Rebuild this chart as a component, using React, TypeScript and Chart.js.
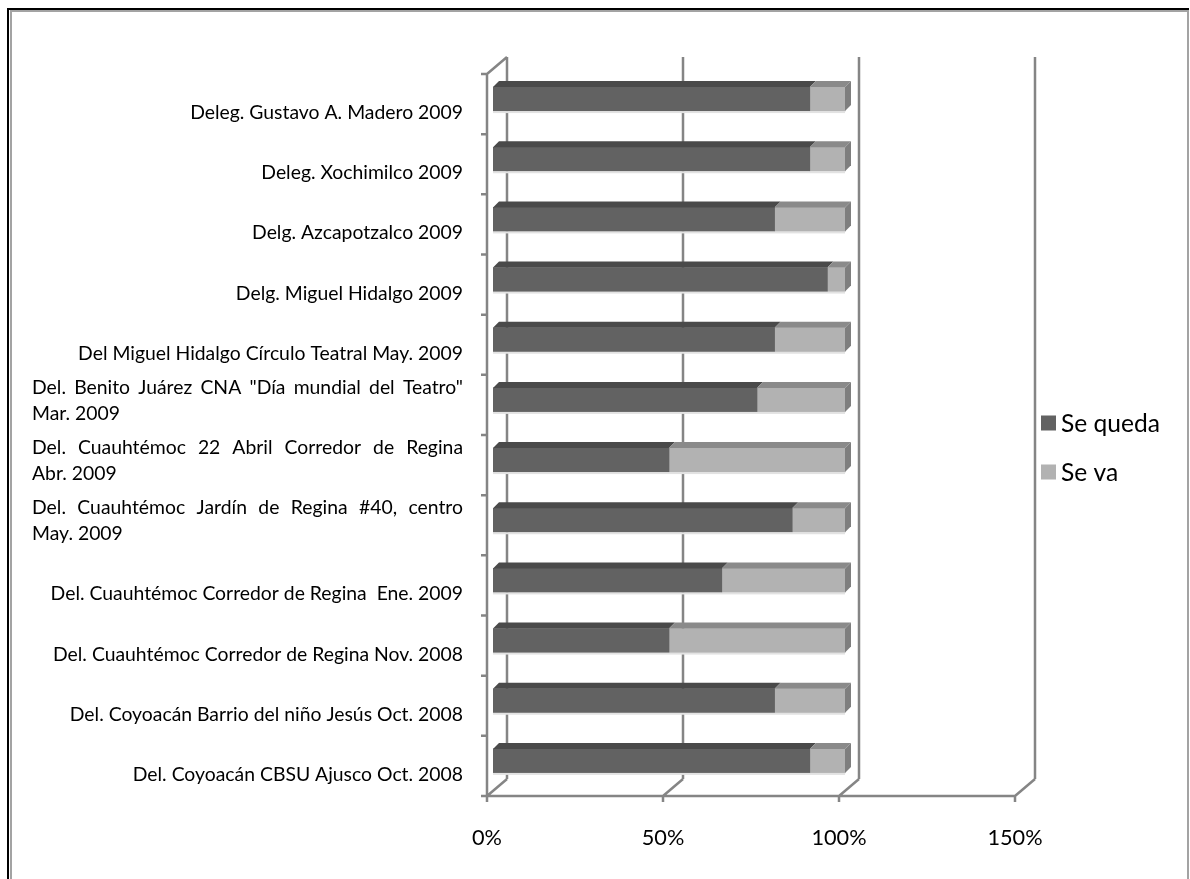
import React, { useEffect, useRef } from "react";
import { Chart, registerables } from "chart.js";

Chart.register(...registerables);

const categories: string[][] = [
  ["Deleg. Gustavo A. Madero 2009"],
  ["Deleg. Xochimilco 2009"],
  ["Delg. Azcapotzalco 2009"],
  ["Delg. Miguel Hidalgo 2009"],
  ["Del Miguel Hidalgo Círculo Teatral May. 2009"],
  ['Del. Benito Juárez CNA "Día mundial del Teatro"', "Mar. 2009"],
  ["Del. Cuauhtémoc 22 Abril Corredor de Regina", "Abr. 2009"],
  ["Del. Cuauhtémoc Jardín de Regina #40, centro", "May. 2009"],
  ["Del. Cuauhtémoc Corredor de Regina  Ene. 2009"],
  ["Del. Cuauhtémoc Corredor de Regina Nov. 2008"],
  ["Del. Coyoacán Barrio del niño Jesús Oct. 2008"],
  ["Del. Coyoacán CBSU Ajusco Oct. 2008"],
];

const seQueda: number[] = [90, 90, 80, 95, 80, 75, 50, 85, 65, 50, 80, 90];
const seVa: number[] = [10, 10, 20, 5, 20, 25, 50, 15, 35, 50, 20, 10];

const xTicks: number[] = [0, 50, 100, 150];
const xTickLabels: string[] = ["0%", "50%", "100%", "150%"];
const seriesNames: string[] = ["Se queda", "Se va"];

const FONT = "Lato, 'Open Sans', sans-serif";
const DARK = "#626262";
const LIGHT = "#b2b2b2";
const DARK_TOP = "#4a4a4a";
const LIGHT_TOP = "#8a8a8a";
const DARK_SIDE = "#474747";
const LIGHT_SIDE = "#7e7e7e";
const WALL = "#858585";

const FRONT_DX = -6;
const FRONT_DY = 5;
const BACK_DX = 14;
const BACK_DY = -12;
const DEPTH = 6;

function fitSize(ctx: CanvasRenderingContext2D, text: string, target: number) {
  ctx.font = `20px ${FONT}`;
  const w = ctx.measureText(text).width;
  return (20 * target) / w;
}

const framePlugin = {
  id: "frame",
  beforeDraw(chart: any) {
    const ctx = chart.ctx;
    ctx.save();
    ctx.fillStyle = "#ffffff";
    ctx.fillRect(0, 0, chart.width, chart.height);
    ctx.fillStyle = "#000000";
    ctx.fillRect(7, 8, 1182, 2);
    ctx.fillRect(7, 8, 2, 871);
    ctx.fillStyle = "#a3a3a3";
    ctx.fillRect(10, 10, 1177, 2);
    ctx.fillRect(10, 10, 2, 869);
    ctx.fillRect(1187, 10, 2, 869);
    ctx.restore();
  },
};

const wallsPlugin = {
  id: "walls",
  beforeDatasetsDraw(chart: any) {
    const ctx = chart.ctx;
    const ca = chart.chartArea;
    const xs = chart.scales.x;
    const ys = chart.scales.y;
    ctx.save();
    ctx.strokeStyle = WALL;
    ctx.lineWidth = 2.5;
    ctx.beginPath();
    xTicks.forEach((v) => {
      const px = xs.getPixelForValue(v);
      ctx.moveTo(px + BACK_DX, ca.top + BACK_DY);
      ctx.lineTo(px + BACK_DX, ca.bottom + BACK_DY);
      ctx.moveTo(px + FRONT_DX, ca.bottom + FRONT_DY);
      ctx.lineTo(px + BACK_DX, ca.bottom + BACK_DY);
      ctx.moveTo(px + FRONT_DX, ca.bottom + FRONT_DY);
      ctx.lineTo(px + FRONT_DX, ca.bottom + FRONT_DY + 6);
    });
    const x0 = xs.getPixelForValue(0);
    const xMax = xs.getPixelForValue(xTicks[xTicks.length - 1]);
    ctx.moveTo(x0 + FRONT_DX, ca.top + FRONT_DY);
    ctx.lineTo(x0 + FRONT_DX, ca.bottom + FRONT_DY);
    ctx.moveTo(x0 + FRONT_DX, ca.top + FRONT_DY);
    ctx.lineTo(x0 + BACK_DX, ca.top + BACK_DY);
    ctx.moveTo(x0 + FRONT_DX, ca.bottom + FRONT_DY);
    ctx.lineTo(xMax + FRONT_DX, ca.bottom + FRONT_DY);
    const n = categories.length;
    for (let i = 0; i <= n; i++) {
      const yc = i < n ? ys.getPixelForValue(i) : ys.getPixelForValue(n - 1);
      const half = (ca.bottom - ca.top) / n / 2;
      const yb = i < n ? yc - half : yc + half;
      ctx.moveTo(x0 + FRONT_DX - 6, yb + FRONT_DY);
      ctx.lineTo(x0 + FRONT_DX, yb + FRONT_DY);
    }
    ctx.stroke();
    ctx.restore();
  },
  afterDatasetsDraw(chart: any) {
    const ctx = chart.ctx;
    const ca = chart.chartArea;
    const xs = chart.scales.x;
    const ys = chart.scales.y;
    ctx.save();
    const nds = chart.data.datasets.length;
    const metas = [];
    for (let d = 0; d < nds; d++) metas.push(chart.getDatasetMeta(d));
    const n = categories.length;
    for (let i = 0; i < n; i++) {
      let maxX = -Infinity;
      let minBase = Infinity;
      let top = 0;
      let bottom = 0;
      for (let d = 0; d < nds; d++) {
        const el = metas[d].data[i];
        const p = el.getProps(["x", "y", "base", "height"], true);
        const t = p.y - p.height / 2;
        const b = p.y + p.height / 2;
        top = t;
        bottom = b;
        const l = Math.min(p.x, p.base);
        const r = Math.max(p.x, p.base);
        if (r - l > 0.01) {
          ctx.fillStyle = d === 0 ? DARK_TOP : LIGHT_TOP;
          ctx.beginPath();
          ctx.moveTo(l, t);
          ctx.lineTo(r, t);
          ctx.lineTo(r + DEPTH, t - DEPTH);
          ctx.lineTo(l + DEPTH, t - DEPTH);
          ctx.closePath();
          ctx.fill();
        }
        if (r > maxX) maxX = r;
        if (l < minBase) minBase = l;
      }
      const lastD = seVa[i] > 0 ? 1 : 0;
      ctx.fillStyle = lastD === 1 ? LIGHT_SIDE : DARK_SIDE;
      ctx.beginPath();
      ctx.moveTo(maxX, top);
      ctx.lineTo(maxX + DEPTH, top - DEPTH);
      ctx.lineTo(maxX + DEPTH, bottom - DEPTH);
      ctx.lineTo(maxX, bottom);
      ctx.closePath();
      ctx.fill();
      ctx.fillStyle = "#e2e2e2";
      ctx.fillRect(minBase, bottom, maxX - minBase, 2);
    }

    const ySize = fitSize(ctx, "Deleg. Gustavo A. Madero 2009", 273);

    // x tick labels
    ctx.fillStyle = "#000000";
    ctx.font = `${ySize * 1.12}px ${FONT}`;
    ctx.textAlign = "center";
    ctx.textBaseline = "alphabetic";
    xTicks.forEach((v, k) => {
      const px = xs.getPixelForValue(v) + FRONT_DX;
      ctx.fillText(xTickLabels[k], px, ca.bottom + 54);
    });

    // category labels
    ctx.font = `${ySize}px ${FONT}`;
    const right = xs.getPixelForValue(0) + FRONT_DX - 24;
    const left = 32;
    categories.forEach((lines, i) => {
      const yc = ys.getPixelForValue(i);
      const lastBase = yc + 20;
      lines.forEach((line, j) => {
        const yb = lastBase - (lines.length - 1 - j) * 26;
        if (lines.length > 1 && j < lines.length - 1) {
          const words = line.split(" ");
          const ww = words.map((w) => ctx.measureText(w).width);
          const total = ww.reduce((a, b) => a + b, 0);
          const gap = (right - left - total) / (words.length - 1);
          let x = left;
          ctx.textAlign = "left";
          words.forEach((w, k) => {
            ctx.fillText(w, x, yb);
            x += ww[k] + gap;
          });
        } else if (lines.length > 1) {
          ctx.textAlign = "left";
          ctx.fillText(line, left, yb);
        } else {
          ctx.textAlign = "right";
          ctx.fillText(line, right, yb);
        }
      });
    });

    // legend
    const lSize = fitSize(ctx, "Se queda", 99);
    ctx.font = `${lSize}px ${FONT}`;
    ctx.textAlign = "left";
    ctx.textBaseline = "middle";
    const lx = ca.right + 20;
    const mid = (ca.top + ca.bottom) / 2;
    const colors = [DARK, LIGHT];
    seriesNames.forEach((name, k) => {
      const cy = mid - 7 + k * 49;
      ctx.fillStyle = colors[k];
      ctx.fillRect(lx, cy - 7.5, 15, 15);
      ctx.fillStyle = "#000000";
      ctx.fillText(name, lx + 20, cy + 1);
    });
    ctx.restore();
  },
};

export default function App() {
  const ref = useRef<HTMLCanvasElement | null>(null);
  useEffect(() => {
    if (!ref.current) return;
    const chart = new Chart(ref.current, {
      type: "bar",
      data: {
        labels: categories,
        datasets: [
          {
            label: seriesNames[0],
            data: seQueda,
            backgroundColor: DARK,
            barThickness: 24,
          },
          {
            label: seriesNames[1],
            data: seVa,
            backgroundColor: LIGHT,
            barThickness: 24,
          },
        ],
      },
      options: {
        indexAxis: "y",
        responsive: false,
        animation: false,
        layout: { padding: { left: 493, right: 169, top: 69, bottom: 88 } },
        scales: {
          x: { type: "linear", min: 0, max: 150, stacked: true, display: false },
          y: { type: "category", stacked: true, display: false },
        },
        plugins: {
          legend: { display: false },
          tooltip: { enabled: false },
          title: { display: false },
        },
      },
      plugins: [framePlugin, wallsPlugin],
    });
    return () => chart.destroy();
  }, []);
  return (
    <div style={{ position: "fixed", left: 0, top: 0, width: 1190, height: 879, background: "#fff" }}>
      <canvas ref={ref} width={1190} height={879} style={{ display: "block" }} />
    </div>
  );
}
